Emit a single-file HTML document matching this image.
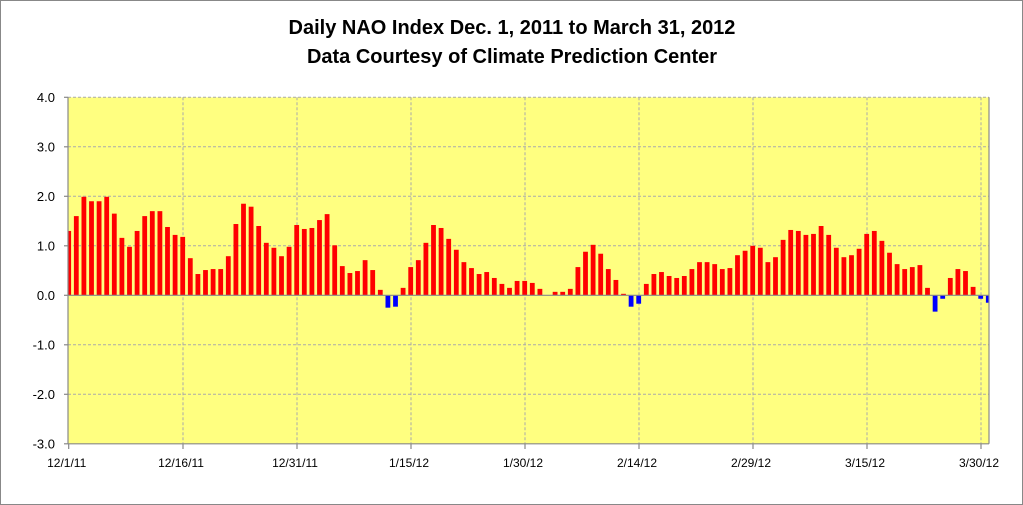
<!DOCTYPE html>
<html><head><meta charset="utf-8"><style>
html,body{margin:0;padding:0;background:#fff;}
svg{display:block;font-family:"Liberation Sans",Arial,sans-serif;}
</style></head><body>
<svg id="c" width="1023" height="505" xmlns="http://www.w3.org/2000/svg">
<rect x="0.5" y="0.5" width="1022" height="504" fill="#fff" stroke="#888"/>
<text x="512" y="34" text-anchor="middle" font-size="20" font-weight="bold">Daily NAO Index Dec. 1, 2011 to March 31, 2012</text>
<text x="512" y="63" text-anchor="middle" font-size="20" font-weight="bold">Data Courtesy of Climate Prediction Center</text>
<rect x="68" y="97.3" width="921" height="346.5" fill="#FFFF80"/>
<g id="grid" stroke="#aaa" stroke-dasharray="3,2" stroke-width="1"></g>
<g id="bars"></g>
<g id="ax" stroke="#888" stroke-width="1.2"></g>
<g id="lab" font-size="13" fill="#000"></g>
</svg>
<script>
var v=[1.30,1.60,1.99,1.90,1.90,1.99,1.65,1.16,0.98,1.30,1.60,1.70,1.70,1.38,1.22,1.18,0.75,0.43,0.51,0.53,0.53,0.79,1.44,1.85,1.79,1.40,1.06,0.96,0.79,0.98,1.42,1.34,1.36,1.52,1.64,1.01,0.59,0.45,0.49,0.71,0.51,0.11,
-0.25,-0.23,0.15,0.57,0.71,1.06,1.42,1.36,1.14,0.92,0.67,0.55,0.43,0.47,0.35,0.23,0.15,0.29,0.29,0.25,0.13,0,0.07,0.07,0.13,0.57,0.88,1.02,0.84,0.53,0.31,0.03,-0.23,-0.17,0.23,0.43,0.47,0.39,0.35,0.39,
0.53,0.67,0.67,0.63,0.53,0.55,0.81,0.90,1.00,0.96,0.67,0.77,1.12,1.32,1.30,1.22,1.24,1.40,1.22,0.96,0.77,0.81,0.94,1.24,1.30,1.10,0.86,0.63,0.53,0.57,0.61,0.15,-0.33,-0.07,0.35,0.53,0.49,0.17,-0.07,-0.15];
var NS="http://www.w3.org/2000/svg";
function el(p,t,a,txt){var e=document.createElementNS(NS,t);for(var k in a)e.setAttribute(k,a[k]);if(txt!==undefined)e.textContent=txt;document.getElementById(p).appendChild(e);}
var z=295.3,s=49.5,L=68,R=989;
for(var k=-3;k<=4;k++){var y=z-k*s;
 if(k>-3&&k<4&&k!=0)el("grid","line",{x1:L,x2:R,y1:y,y2:y});
 el("lab","text",{x:55,y:y+4.5,"text-anchor":"end"},k.toFixed(1));
 el("ax","line",{x1:L-4,x2:L,y1:y,y2:y});}
el("grid","line",{x1:L,x2:R,y1:97.3,y2:97.3});
var xl=["12/1/11","12/16/11","12/31/11","1/15/12","1/30/12","2/14/12","2/29/12","3/15/12","3/30/12"];
for(var i=0;i<9;i++){var x=68.7+7.6*15*i+ (i>0?0.3:0);
 if(i>0)el("grid","line",{x1:x,x2:x,y1:97.3,y2:443.8});
 el("ax","line",{x1:x,x2:x,y1:443.8,y2:449});
 el("lab","text",{x:x-2,y:467,"text-anchor":"middle","font-size":"12"},xl[i]);}
for(var i=0;i<v.length;i++){var c=68.7+7.6*i,x0=Math.max(L,c-2.4),x1=Math.min(R,c+2.4);
 if(v[i]==0)continue;var h=v[i]*s;
 el("bars","rect",{x:x0,width:x1-x0,y:h>0?z-h:z,height:Math.abs(h),fill:v[i]>0?"#FF0000":"#0000FF"});}
el("ax","line",{x1:L,x2:L,y1:97.3,y2:443.8});
el("ax","line",{x1:R,x2:R,y1:97.3,y2:443.8});
el("ax","line",{x1:L,x2:R,y1:z,y2:z});
el("ax","line",{x1:L,x2:R,y1:443.8,y2:443.8});
</script>
</body></html>
